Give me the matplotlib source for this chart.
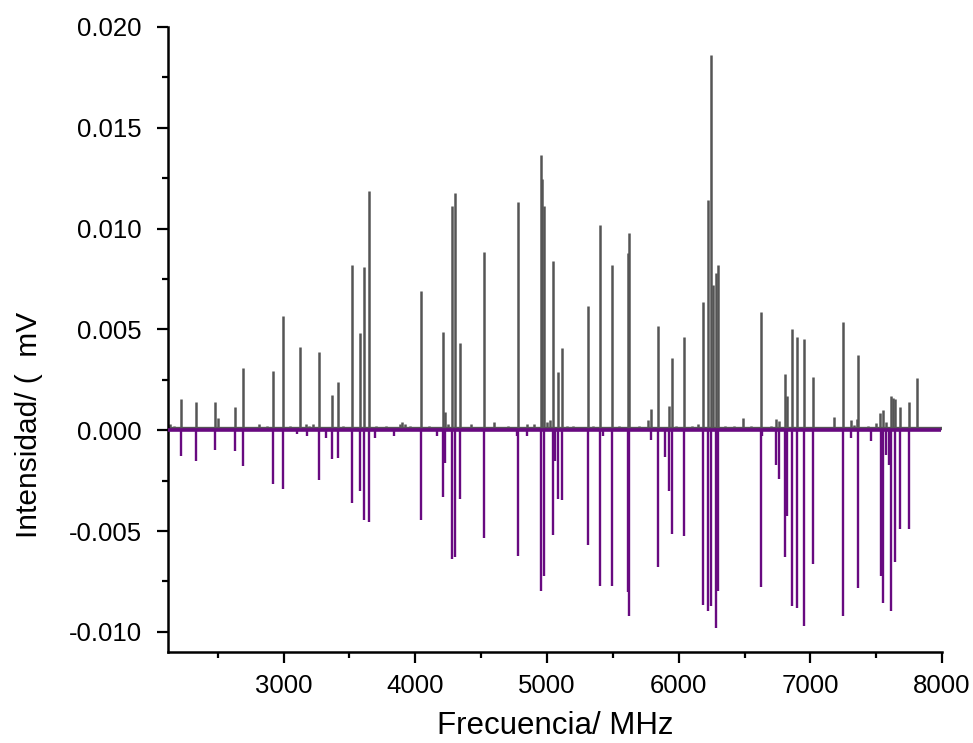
import numpy as np
import matplotlib
matplotlib.use("Agg")
import matplotlib.pyplot as plt
from matplotlib.ticker import MultipleLocator, FormatStrFormatter

plt.rcParams['font.family'] = ['Liberation Sans', 'DejaVu Sans']
plt.rcParams['axes.unicode_minus'] = False

# espectro experimental (gris) - frecuencia MHz / intensidad mV
exp_freq = [2218, 2332, 2478, 2501, 2628, 2689, 2921, 2995, 3126, 3270,
            3369, 3410, 3516, 3579, 3610, 3648, 4040, 4212, 4227, 4280,
            4301, 4336, 4519, 4777, 4951, 4964, 4974, 5045, 5083, 5116,
            5308, 5402, 5490, 5612, 5622, 5787, 5844, 5928, 5948, 6040,
            6186, 6219, 6244, 6257, 6283, 6298, 6622, 6804, 6819, 6862,
            6895, 6951, 7017, 7245, 7363, 7528, 7548, 7609, 7624, 7644,
            7682, 7748, 7806]
exp_int = [0.00153, 0.00141, 0.00138, 0.00063, 0.00116, 0.00307, 0.00294, 0.00564, 0.00414, 0.00386,
           0.00174, 0.00240, 0.00820, 0.00481, 0.00810, 0.01184, 0.00688, 0.00489, 0.00091, 0.01111,
           0.01178, 0.00431, 0.00882, 0.01133, 0.01363, 0.01244, 0.01114, 0.00837, 0.00290, 0.00410,
           0.00614, 0.01020, 0.00821, 0.00879, 0.00979, 0.00103, 0.00519, 0.00119, 0.00360, 0.00464,
           0.00635, 0.01144, 0.01861, 0.00721, 0.00780, 0.00821, 0.00587, 0.00277, 0.00172, 0.00501,
           0.00464, 0.00451, 0.00265, 0.00539, 0.00373, 0.00083, 0.00100, 0.00169, 0.00161, 0.00154,
           0.00116, 0.00138, 0.00260]

# ruido de la linea base (gris)
noise_freq = [2140, 2170, 2260, 2400, 2560, 2815, 2870, 3050, 3170, 3190,
              3220, 3310, 3450, 3700, 3780, 3880, 3900, 3920, 3960, 4100,
              4250, 4420, 4600, 4700, 4850, 4900, 5000, 5020, 5150, 5200,
              5350, 5550, 5700, 5770, 5980, 6100, 6150, 6350, 6420, 6490,
              6550, 6700, 6736, 6761, 7100, 7181, 7305, 7330, 7351, 7440,
              7497, 7573, 7850]
noise_int = [0.0003, 0.0002, 0.0001, 0.0001, 0.0001, 0.0003, 0.0002, 0.0002, 0.0003, 0.0002,
             0.0003, 0.0001, 0.0002, 0.0002, 0.0002, 0.0003, 0.0004, 0.0003, 0.0002, 0.0002,
             0.0003, 0.0003, 0.0004, 0.0002, 0.0003, 0.0003, 0.0004, 0.0005, 0.0002, 0.0002,
             0.0002, 0.0002, 0.0002, 0.0005, 0.0002, 0.0002, 0.0003, 0.0002, 0.0002, 0.0006,
             0.0002, 0.0002, 0.00058, 0.00048, 0.0001, 0.00066, 0.0005, 0.00025, 0.00055, 0.0002,
             0.00037, 0.0004, 0.0001]

# espectro simulado (morado, invertido)
sim_freq = [2218, 2332, 2478, 2628, 2689, 2921, 2995, 3270, 3369, 3410,
            3516, 3579, 3610, 3648, 4040, 4212, 4227, 4280, 4301, 4336,
            4519, 4777, 4951, 4974, 5045, 5060, 5083, 5116, 5308, 5402,
            5490, 5612, 5622, 5844, 5893, 5928, 5948, 6040, 6186, 6219,
            6244, 6283, 6298, 6622, 6736, 6761, 6804, 6819, 6862, 6895,
            6951, 7017, 7245, 7363, 7533, 7548, 7573, 7598, 7609, 7644,
            7682, 7748,
            3100, 3177, 3320, 3694, 3835, 4162, 4770, 4850, 5425, 5787,
            6630, 7305, 7462]
sim_int = [-0.00128, -0.00153, -0.00096, -0.00103, -0.00178, -0.00265, -0.00290, -0.00249, -0.00141, -0.00138,
           -0.00360, -0.00302, -0.00443, -0.00453, -0.00443, -0.00332, -0.00163, -0.00639, -0.00631, -0.00340,
           -0.00536, -0.00622, -0.00796, -0.00721, -0.00519, -0.00153, -0.00343, -0.00348, -0.00569, -0.00775,
           -0.00775, -0.00804, -0.00924, -0.00680, -0.00133, -0.00303, -0.00514, -0.00527, -0.00867, -0.00896,
           -0.00870, -0.00983, -0.00800, -0.00779, -0.00171, -0.00240, -0.00630, -0.00426, -0.00874, -0.00882,
           -0.00973, -0.00663, -0.00924, -0.00783, -0.00721, -0.00857, -0.00124, -0.00171, -0.00896, -0.00652,
           -0.00489, -0.00492,
           -0.0002, -0.0003, -0.0004, -0.0004, -0.0003, -0.0003, -0.0003, -0.0003, -0.0003, -0.0005,
           -0.0003, -0.00037, -0.00053]

gray = '#555555'
purple = '#680a80'

fig = plt.figure(figsize=(9.73, 7.43), dpi=100)
ax = fig.add_axes([0.1727, 0.1225, 0.7955, 0.8412])

ax.axhline(0.0001, color=gray, lw=2.4, zorder=1)
ax.vlines(noise_freq, 0, noise_int, color=gray, lw=1.8, zorder=1)
ax.vlines(exp_freq, 0, exp_int, color=gray, lw=1.8, zorder=2)
ax.vlines(sim_freq, 0, sim_int, color=purple, lw=1.7, zorder=3)
ax.plot([2122, 7995], [0, 0], color=purple, lw=2.6, zorder=4, solid_capstyle='butt')

ax.set_xlim(2122, 8000)
ax.set_ylim(-0.011, 0.020)

ax.xaxis.set_major_locator(MultipleLocator(1000))
ax.xaxis.set_minor_locator(MultipleLocator(500))
ax.yaxis.set_major_locator(MultipleLocator(0.005))
ax.yaxis.set_minor_locator(MultipleLocator(0.0025))
ax.yaxis.set_major_formatter(FormatStrFormatter('%.3f'))

ax.spines['top'].set_visible(False)
ax.spines['right'].set_visible(False)
for s in ['left', 'bottom']:
    ax.spines[s].set_linewidth(1.8)

ax.tick_params(which='major', direction='out', length=8, width=1.6, labelsize=18.5)
ax.tick_params(axis='y', which='major', pad=11)
ax.tick_params(axis='x', which='major', pad=8)
ax.tick_params(which='minor', direction='out', length=4.5, width=1.6)

ax.set_xlabel('Frecuencia/ MHz', fontsize=22.5, labelpad=9)
ax.set_ylabel('Intensidad/ (  mV', fontsize=21.5)
ax.yaxis.set_label_coords(-0.1615, 0.363)

fig.savefig('out.png', dpi=100)
